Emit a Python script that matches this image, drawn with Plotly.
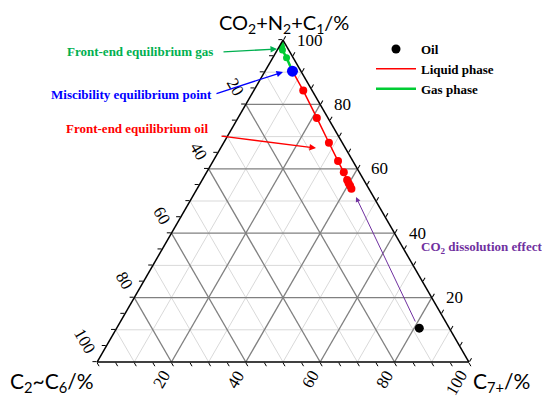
import math
import plotly.graph_objects as go

# ternary components in % : a = CO2+N2+C1, b = C2~C6, c = C7+
gas_a = [98.6, 97.8, 96.9, 94.5, 90.3]
gas_b = [1.3, 1.5, 1.7, 1.8, 2.3]
gas_c = [0.1, 0.7, 1.4, 3.7, 7.4]

liq_a = [90.3, 84.3, 75.8, 68.1, 62.4, 58.9, 56.5, 55.5, 54.7, 53.8]
liq_b = [2.3, 2.4, 3.0, 3.6, 4.0, 4.2, 4.5, 4.6, 4.6, 4.7]
liq_c = [7.4, 13.3, 21.2, 28.3, 33.6, 36.9, 39.0, 39.9, 40.7, 41.5]

mix_a = [90.3]
mix_b = [2.3]
mix_c = [7.4]

oil_a = [10.5]
oil_b = [8.1]
oil_c = [81.4]

grid_vals = [10, 20, 30, 40, 50, 60, 70, 80, 90]
tick_vals = list(range(0, 101, 5))
label_vals = [20, 40, 60, 80, 100]

W, H = 550, 405
PAGE = 8  # the page body margin shifts the figure by 8px
# triangle placement on screen (pixels): centre x, bottom y, height
CX, BOT, TH = 283, 362, 322
SIDE = TH * 2 / math.sqrt(3)


def px(x, y):
    # screen pixel -> paper coords (figure margins are zero)
    return (x - PAGE) / W, (H - (y - PAGE)) / H


def tern_px(a, b, c):
    s = a + b + c
    return CX - SIDE / 2 + SIDE * (c + a / 2) / s, BOT - TH * a / s


def grid_trace(vals, color, width):
    a, b, c = [], [], []
    for v in vals:
        a += [v, v, None, 100 - v, 0, None, 100 - v, 0, None]
        b += [100 - v, 0, None, v, v, None, 0, 100 - v, None]
        c += [0, 100 - v, None, 0, 100 - v, None, v, v, None]
    return go.Scatterternary(a=a, b=b, c=c, mode="lines", hoverinfo="skip",
                             line=dict(color=color, width=width), showlegend=False)


fig = go.Figure()
fig.add_trace(grid_trace([v for v in grid_vals if v % 20], "#d9d9d9", 1))
fig.add_trace(grid_trace([v for v in grid_vals if v % 20 == 0], "#808080", 1.3))

fig.add_trace(go.Scatterternary(a=oil_a, b=oil_b, c=oil_c, mode="markers", name="Oil",
                                marker=dict(color="black", size=9)))
fig.add_trace(go.Scatterternary(a=liq_a, b=liq_b, c=liq_c, mode="lines", name="Liquid phase",
                                line=dict(color="#ff0000", width=1.5)))
fig.add_trace(go.Scatterternary(a=gas_a, b=gas_b, c=gas_c, mode="lines", name="Gas phase",
                                line=dict(color="#00cc33", width=2.5)))
fig.add_trace(go.Scatterternary(a=liq_a[1:], b=liq_b[1:], c=liq_c[1:], mode="markers",
                                marker=dict(color="#ff0000", size=8), showlegend=False))
fig.add_trace(go.Scatterternary(a=gas_a[:-1], b=gas_b[:-1], c=gas_c[:-1], mode="markers",
                                marker=dict(color="#00cc33", size=7), showlegend=False))
fig.add_trace(go.Scatterternary(a=mix_a, b=mix_b, c=mix_c, mode="markers",
                                marker=dict(color="#0000ff", size=11), showlegend=False))

axis_common = dict(tickmode="array", tickvals=tick_vals, ticks="outside", ticklen=4,
                   tickcolor="black", linecolor="black", linewidth=1.5,
                   showgrid=False, showticklabels=False, min=0, title=dict(text=""))

dx0, dy0 = px(CX - 200, BOT)
dx1, dy1 = px(CX + 200, BOT - TH)
fig.update_layout(
    width=W, height=H,
    margin=dict(l=0, r=0, t=0, b=0),
    paper_bgcolor="white",
    showlegend=True,
    ternary=dict(
        sum=100,
        bgcolor="white",
        domain=dict(x=[dx0, dx1], y=[dy0, dy1]),
        aaxis=axis_common, baxis=axis_common, caxis=axis_common,
    ),
    legend=dict(x=px(371, 0)[0], y=px(0, 34)[1], xanchor="left", yanchor="top",
                itemwidth=40, bgcolor="rgba(0,0,0,0)",
                font=dict(family="Liberation Serif", size=13, color="black", weight="bold")),
)

# tick labels, read the way the reference reads them
tick_font = dict(family="Liberation Serif", size=17, color="black")
for v in label_vals:
    # right edge: CO2+N2+C1
    x, y = tern_px(v, 0, 100 - v)
    fig.add_annotation(x=px(x + 12, y)[0], y=px(x, y)[1], xref="paper", yref="paper",
                       text=str(v), showarrow=False, xanchor="left", yanchor="middle",
                       font=tick_font)
    d = 12 + 4 * len(str(v))
    # left edge: C2~C6
    x, y = tern_px(100 - v, v, 0)
    lx, ly = px(x - d * 0.5, y - d * 0.866)
    fig.add_annotation(x=lx, y=ly, xref="paper", yref="paper", text=str(v), textangle=60,
                       showarrow=False, xanchor="center", yanchor="middle", font=tick_font)
    # bottom edge: C7+
    x, y = tern_px(0, 100 - v, v)
    lx, ly = px(x - d * 0.5, y + d * 0.866)
    fig.add_annotation(x=lx, y=ly, xref="paper", yref="paper", text=str(v), textangle=-60,
                       showarrow=False, xanchor="center", yanchor="middle", font=tick_font)

# vertex titles
vertex_titles = [
    ("CO<sub>2</sub>+N<sub>2</sub>+C<sub>1</sub>/%", (284, 23), "center", 20),
    ("C<sub>2</sub>~C<sub>6</sub>/%", (52, 382), "center", 21),
    ("C<sub>7+</sub>/%", (471, 382), "left", 21),
]
for text, pos, anchor, size in vertex_titles:
    x, y = px(*pos)
    fig.add_annotation(x=x, y=y, xref="paper", yref="paper", text=text, showarrow=False,
                       xanchor=anchor, yanchor="middle",
                       font=dict(family="Lato", size=size, color="black"))

note_font = dict(family="Liberation Serif", size=13, weight="bold")
notes = [
    ("Front-end equilibrium gas", "#00b050", (140, 51), (222, 52), (277, 49)),
    ("Miscibility equilibrium point", "#0000ff", (131, 94), (215, 94), (283, 72)),
    ("Front-end equilibrium oil", "#ff0000", (137, 129), (220, 136), (316, 148)),
]
for text, color, pos, tail, tip in notes:
    x, y = px(*pos)
    fig.add_annotation(x=x, y=y, xref="paper", yref="paper", text=text, showarrow=False,
                       xanchor="center", yanchor="middle", font=dict(note_font, color=color))
    hx, hy = px(*tip)
    fig.add_annotation(x=hx, y=hy, xref="paper", yref="paper", ax=tail[0] - tip[0],
                       ay=tail[1] - tip[1], axref="pixel", ayref="pixel", text="",
                       showarrow=True, arrowhead=2, arrowsize=1, arrowwidth=1.3,
                       arrowcolor=color)

x, y = px(481, 247)
fig.add_annotation(x=x, y=y, xref="paper", yref="paper", showarrow=False,
                   xanchor="center", yanchor="middle",
                   text="CO<sub>2</sub> dissolution effect",
                   font=dict(note_font, color="#7030a0"))
hx, hy = px(356, 197)
fig.add_annotation(x=hx, y=hy, xref="paper", yref="paper", ax=416 - 356, ay=323 - 197,
                   text="", showarrow=True, arrowhead=2, arrowsize=1, arrowwidth=1,
                   arrowcolor="#7030a0")

fig.write_html("out.html")
